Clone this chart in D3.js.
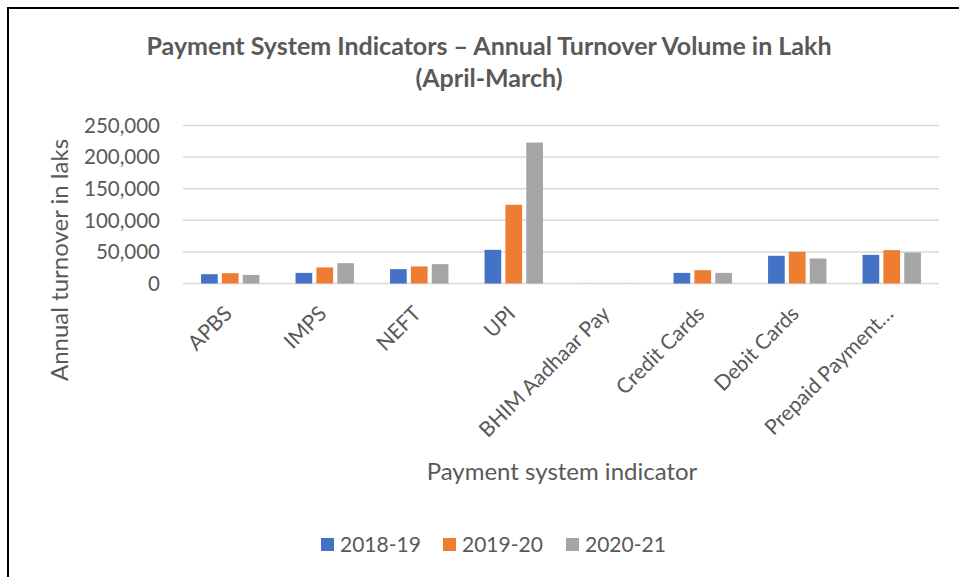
<html>
  <head>
    <style>
      body {
        margin: 0;
        background: #fff;
      }
      svg text {
        font-family: Lato, "Open Sans", sans-serif;
        fill: #595959;
      }
    </style>
  </head>
  <body>
    <svg></svg>

    <script src="https://d3js.org/d3.v7.min.js"></script>
    <script>
      let width = 959,
        height = 577;

      // data (lakh)
      let categories = [
        "APBS",
        "IMPS",
        "NEFT",
        "UPI",
        "BHIM Aadhaar Pay",
        "Credit Cards",
        "Debit Cards",
        "Prepaid Payment…",
      ];
      let seriesNames = ["2018-19", "2019-20", "2020-21"];
      let v2018 = [14700, 16800, 22700, 53300, 90, 16800, 43800, 45300];
      let v2019 = [16300, 25400, 27000, 124600, 120, 21100, 50100, 52800];
      let v2020 = [13600, 32200, 30600, 223000, 160, 16800, 39600, 49100];
      let yTicks = [0, 50000, 100000, 150000, 200000, 250000];
      let colors = ["#4472C4", "#ED7D31", "#A5A5A5"];

      let values = [v2018, v2019, v2020];

      let svg = d3.select("svg").attr("width", width).attr("height", height);

      // chart border (only top and left show in the crop)
      svg
        .append("path")
        .attr("d", "M8,577 L8,8 L959,8")
        .attr("fill", "none")
        .attr("stroke", "#000")
        .attr("stroke-width", 2);

      let x = d3.scaleBand().domain(categories).range([183, 939]);
      let y = d3.scaleLinear().domain([0, 250000]).range([283.5, 125.5]);

      // title
      let title = svg
        .append("text")
        .attr("text-anchor", "middle")
        .style("font-size", "25px")
        .style("font-weight", "bold");
      title.append("tspan").attr("x", 489).attr("y", 55).text("Payment System Indicators – Annual Turnover Volume in Lakh");
      title.append("tspan").attr("x", 489).attr("y", 87).text("(April-March)");

      // gridlines
      svg
        .append("g")
        .selectAll("line")
        .data(yTicks)
        .enter()
        .append("line")
        .attr("x1", 183)
        .attr("x2", 939)
        .attr("y1", (d) => y(d))
        .attr("y2", (d) => y(d))
        .attr("stroke", "#d9d9d9")
        .attr("stroke-width", 1.5);

      // y tick labels
      svg
        .append("g")
        .selectAll("text")
        .data(yTicks)
        .enter()
        .append("text")
        .attr("x", 160)
        .attr("y", (d) => y(d))
        .attr("dy", "0.36em")
        .attr("text-anchor", "end")
        .style("font-size", "20.5px")
        .text((d) => d3.format(",")(d));

      // bars
      let groups = svg
        .append("g")
        .selectAll("g")
        .data(categories)
        .enter()
        .append("g");

      groups.each(function (cat, i) {
        let cx = x(cat) + x.bandwidth() / 2;
        let xs = d3
          .scaleBand()
          .domain(seriesNames)
          .range([cx - 29.2, cx + 29.2])
          .paddingInner(0.2);
        d3.select(this)
          .selectAll("rect")
          .data(seriesNames)
          .enter()
          .append("rect")
          .attr("x", (s) => xs(s))
          .attr("width", xs.bandwidth())
          .attr("y", (s, j) => y(values[j][i]))
          .attr("height", (s, j) => y(0) - y(values[j][i]))
          .attr("fill", (s, j) => colors[j]);
      });

      // x labels
      svg
        .append("g")
        .selectAll("text")
        .data(categories)
        .enter()
        .append("text")
        .attr("text-anchor", "end")
        .attr("transform", (d) => "translate(" + (x(d) + x.bandwidth() / 2 + 3) + ",315) rotate(-45)")
        .style("font-size", "21px")
        .text((d) => d);

      // axis titles
      svg
        .append("text")
        .attr("transform", "translate(68,260) rotate(-90)")
        .attr("text-anchor", "middle")
        .style("font-size", "24px")
        .text("Annual turnover in laks");

      svg
        .append("text")
        .attr("x", 562)
        .attr("y", 480)
        .attr("text-anchor", "middle")
        .style("font-size", "24px")
        .text("Payment system indicator");

      // legend
      let legend = svg
        .append("g")
        .selectAll("g")
        .data(seriesNames)
        .enter()
        .append("g")
        .attr("transform", (d, i) => "translate(" + [321, 443, 566][i] + ",538)");
      legend
        .append("rect")
        .attr("width", 13)
        .attr("height", 13)
        .attr("fill", (d, i) => colors[i]);
      legend
        .append("text")
        .attr("x", 19)
        .attr("y", 6.5)
        .attr("dy", "0.36em")
        .style("font-size", "21px")
        .text((d) => d);
    </script>
  </body>
</html>
